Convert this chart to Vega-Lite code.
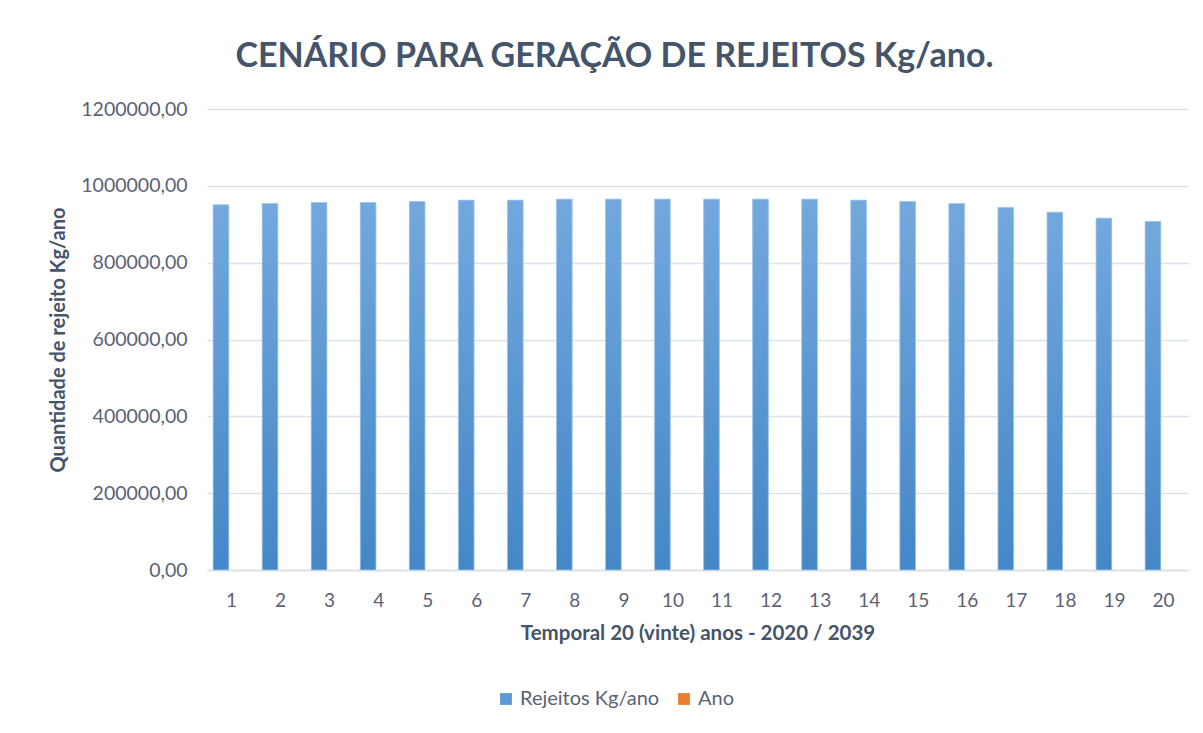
{
  "$schema": "https://vega.github.io/schema/vega-lite/v6.json",
  "width": 981,
  "height": 461,
  "autosize": {"type": "none"},
  "padding": {"left": 207, "top": 109, "right": 15, "bottom": 163},
  "background": "white",
  "config": {
    "locale": {"number": {"decimal": ",", "thousands": ".", "grouping": [3], "currency": ["R$ ", ""]}},
    "font": "Lato",
    "view": {"stroke": null}
  },
  "title": {
    "text": "CENÁRIO PARA GERAÇÃO DE REJEITOS Kg/ano.",
    "fontSize": 34,
    "fontWeight": "bold",
    "color": "#44546A",
    "anchor": "middle",
    "dx": -83,
    "offset": 25
  },
  "data": {
    "values": [
      {"ano": 1, "serie": "Rejeitos Kg/ano", "valor": 950500},
      {"ano": 2, "serie": "Rejeitos Kg/ano", "valor": 954000},
      {"ano": 3, "serie": "Rejeitos Kg/ano", "valor": 956700},
      {"ano": 4, "serie": "Rejeitos Kg/ano", "valor": 956700},
      {"ano": 5, "serie": "Rejeitos Kg/ano", "valor": 959400},
      {"ano": 6, "serie": "Rejeitos Kg/ano", "valor": 962800},
      {"ano": 7, "serie": "Rejeitos Kg/ano", "valor": 962800},
      {"ano": 8, "serie": "Rejeitos Kg/ano", "valor": 965400},
      {"ano": 9, "serie": "Rejeitos Kg/ano", "valor": 965400},
      {"ano": 10, "serie": "Rejeitos Kg/ano", "valor": 965400},
      {"ano": 11, "serie": "Rejeitos Kg/ano", "valor": 965400},
      {"ano": 12, "serie": "Rejeitos Kg/ano", "valor": 965400},
      {"ano": 13, "serie": "Rejeitos Kg/ano", "valor": 965400},
      {"ano": 14, "serie": "Rejeitos Kg/ano", "valor": 962800},
      {"ano": 15, "serie": "Rejeitos Kg/ano", "valor": 959400},
      {"ano": 16, "serie": "Rejeitos Kg/ano", "valor": 954000},
      {"ano": 17, "serie": "Rejeitos Kg/ano", "valor": 943700},
      {"ano": 18, "serie": "Rejeitos Kg/ano", "valor": 931500},
      {"ano": 19, "serie": "Rejeitos Kg/ano", "valor": 915900},
      {"ano": 20, "serie": "Rejeitos Kg/ano", "valor": 907300},
      {"ano": 1, "serie": "Ano", "valor": 1},
      {"ano": 2, "serie": "Ano", "valor": 2},
      {"ano": 3, "serie": "Ano", "valor": 3},
      {"ano": 4, "serie": "Ano", "valor": 4},
      {"ano": 5, "serie": "Ano", "valor": 5},
      {"ano": 6, "serie": "Ano", "valor": 6},
      {"ano": 7, "serie": "Ano", "valor": 7},
      {"ano": 8, "serie": "Ano", "valor": 8},
      {"ano": 9, "serie": "Ano", "valor": 9},
      {"ano": 10, "serie": "Ano", "valor": 10},
      {"ano": 11, "serie": "Ano", "valor": 11},
      {"ano": 12, "serie": "Ano", "valor": 12},
      {"ano": 13, "serie": "Ano", "valor": 13},
      {"ano": 14, "serie": "Ano", "valor": 14},
      {"ano": 15, "serie": "Ano", "valor": 15},
      {"ano": 16, "serie": "Ano", "valor": 16},
      {"ano": 17, "serie": "Ano", "valor": 17},
      {"ano": 18, "serie": "Ano", "valor": 18},
      {"ano": 19, "serie": "Ano", "valor": 19},
      {"ano": 20, "serie": "Ano", "valor": 20}
    ]
  },
  "layer": [
    {
      "mark": {"type": "bar"},
      "encoding": {
        "x": {
          "field": "ano",
          "type": "ordinal",
          "scale": {"paddingInner": 0.25, "paddingOuter": 0.125},
          "axis": {
            "title": "Temporal 20 (vinte) anos - 2020 / 2039",
            "titleFontSize": 20.5,
            "titleFontWeight": "bold",
            "titleColor": "#44546A",
            "titlePadding": 13,
            "labelAngle": 0,
            "labelFontSize": 19,
            "labelColor": "#5A6275",
            "labelPadding": 21,
            "ticks": false,
            "domainColor": "#D9DEE4",
            "domainWidth": 1.5
          }
        },
        "xOffset": {
          "field": "serie",
          "type": "nominal",
          "scale": {"domain": ["Rejeitos Kg/ano", "Ano"], "paddingInner": 0.256, "paddingOuter": 0}
        },
        "y": {
          "field": "valor",
          "type": "quantitative",
          "scale": {"domain": [0, 1200000]},
          "axis": {
            "title": "Quantidade de rejeito Kg/ano",
            "titleFontSize": 20,
            "titleFontWeight": "bold",
            "titleColor": "#44546A",
            "titlePadding": 12,
            "values": [0, 200000, 400000, 600000, 800000, 1000000, 1200000],
            "format": ".2f",
            "labelFontSize": 19.5,
            "labelColor": "#5A6275",
            "labelPadding": 20,
            "ticks": false,
            "domain": false,
            "gridColor": "#DDE2E8",
            "gridWidth": 1.5
          }
        },
        "color": {
          "field": "serie",
          "type": "nominal",
          "scale": {"domain": ["Rejeitos Kg/ano", "Ano"], "range": ["#5B9BD5", "#ED7D31"]},
          "legend": {
            "title": null,
            "orient": "none",
            "legendX": 289,
            "legendY": 580,
            "direction": "horizontal",
            "symbolType": "square",
            "symbolSize": 140,
            "symbolStrokeWidth": 0,
            "labelFontSize": 20,
            "labelColor": "#5A6275",
            "labelOffset": 4,
            "columnPadding": 14,
            "padding": 0
          }
        }
      }
    },
    {
      "transform": [{"filter": "datum.serie == 'Rejeitos Kg/ano'"}],
      "mark": {
        "type": "bar",
        "fill": {
          "gradient": "linear",
          "x1": 0, "y1": 0, "x2": 0, "y2": 1,
          "stops": [
            {"offset": 0, "color": "#72A8DD"},
            {"offset": 1, "color": "#4487C7"}
          ]
        },
        "stroke": "#A9CBEB",
        "strokeWidth": 0.8
      },
      "encoding": {
        "x": {"field": "ano", "type": "ordinal"},
        "xOffset": {"field": "serie", "type": "nominal", "scale": {"domain": ["Rejeitos Kg/ano", "Ano"]}},
        "y": {"field": "valor", "type": "quantitative"}
      }
    }
  ]
}
